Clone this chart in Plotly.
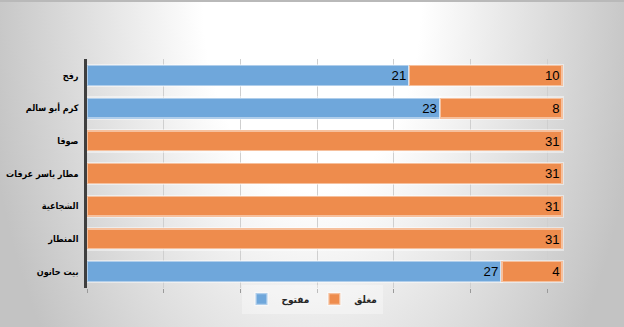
import base64
import plotly.graph_objects as go

# Crossing points and status counts (days open / closed)
crossings = ["رفح", "كرم أبو سالم", "صوفا", "مطار ياسر عرفات", "الشجاعية", "المنطار", "بيت حانون"]
open_days = [21, 23, 0, 0, 0, 0, 27]
closed_days = [10, 8, 31, 31, 31, 31, 4]
open_name = "مفتوح"
closed_name = "مغلق"

BLUE = "#6FA7DB"
ORANGE = "#EE8C4D"
W, H = 624, 327

# Soft radial background: white near the top centre fading to grey at the edges
svg = f"""<svg xmlns='http://www.w3.org/2000/svg' width='{W}' height='{H}' viewBox='0 0 {W} {H}' preserveAspectRatio='none'>
<defs><radialGradient id='g' gradientUnits='userSpaceOnUse' cx='312' cy='0' r='330'
 gradientTransform='translate(312 0) scale(1 1.75) translate(-312 0)'>
<stop offset='0.33' stop-color='#ffffff'/><stop offset='1' stop-color='#c3c3c3'/></radialGradient></defs>
<rect width='{W}' height='{H}' fill='url(#g)'/>
<rect width='{W}' height='2' fill='#b9b9b9'/></svg>"""
bg_uri = "data:image/svg+xml;base64," + base64.b64encode(svg.encode()).decode()


def labels(vals):
    return [str(v) if v else "" for v in vals]


label_font = dict(family="Liberation Sans, Arial, sans-serif", size=15, color="#000000")
halo = dict(color="rgba(255,255,255,0.45)", width=2.5)

fig = go.Figure()
fig.add_trace(go.Bar(
    y=crossings, x=open_days, name=open_name, orientation="h",
    marker=dict(color=BLUE, line=halo),
    text=labels(open_days), textposition="inside", insidetextanchor="end", textangle=0,
    textfont=label_font, cliponaxis=False,
))
fig.add_trace(go.Bar(
    y=crossings, x=closed_days, name=closed_name, orientation="h",
    marker=dict(color=ORANGE, line=halo),
    text=labels(closed_days), textposition="inside", insidetextanchor="end", textangle=0,
    textfont=label_font, cliponaxis=False,
))

fig.update_layout(
    width=W, height=H,
    margin=dict(l=0, r=0, t=0, b=0, autoexpand=False),
    barmode="stack", bargap=0.36,
    paper_bgcolor="#d9d9d9", plot_bgcolor="rgba(0,0,0,0)",
    images=[dict(source=bg_uri, xref="paper", yref="paper", x=0, y=1,
                 sizex=1, sizey=1, sizing="stretch", layer="below")],
    xaxis=dict(
        domain=[87 / W, 1.0], range=[0, 35], dtick=5, tick0=0,
        showticklabels=False, showgrid=True, gridcolor="#cfcfcf", gridwidth=1,
        ticks="outside", ticklen=4, tickcolor="#9a9a9a", zeroline=False,
        showline=False, fixedrange=True, automargin=False,
    ),
    yaxis=dict(
        domain=[1 - 288 / H, 1 - 59 / H], autorange="reversed", automargin=False,
        showline=True, linecolor="#3f3f3f", linewidth=2.5,
        ticks="", ticklabelstandoff=4, showgrid=False,
        tickfont=dict(family="DejaVu Sans Condensed", size=9, color="#000000", weight="bold"),
    ),
    legend=dict(
        orientation="h", x=312 / W, xanchor="center", y=1 - 299 / H, yanchor="middle",
        bgcolor="rgba(255,255,255,0.35)", itemwidth=30, traceorder="normal",
        font=dict(family="DejaVu Sans Condensed", size=10, color="#262626", weight="bold"),
    ),
    uniformtext=dict(mode="show", minsize=10),
    showlegend=True,
)

fig.write_html("out.html")
